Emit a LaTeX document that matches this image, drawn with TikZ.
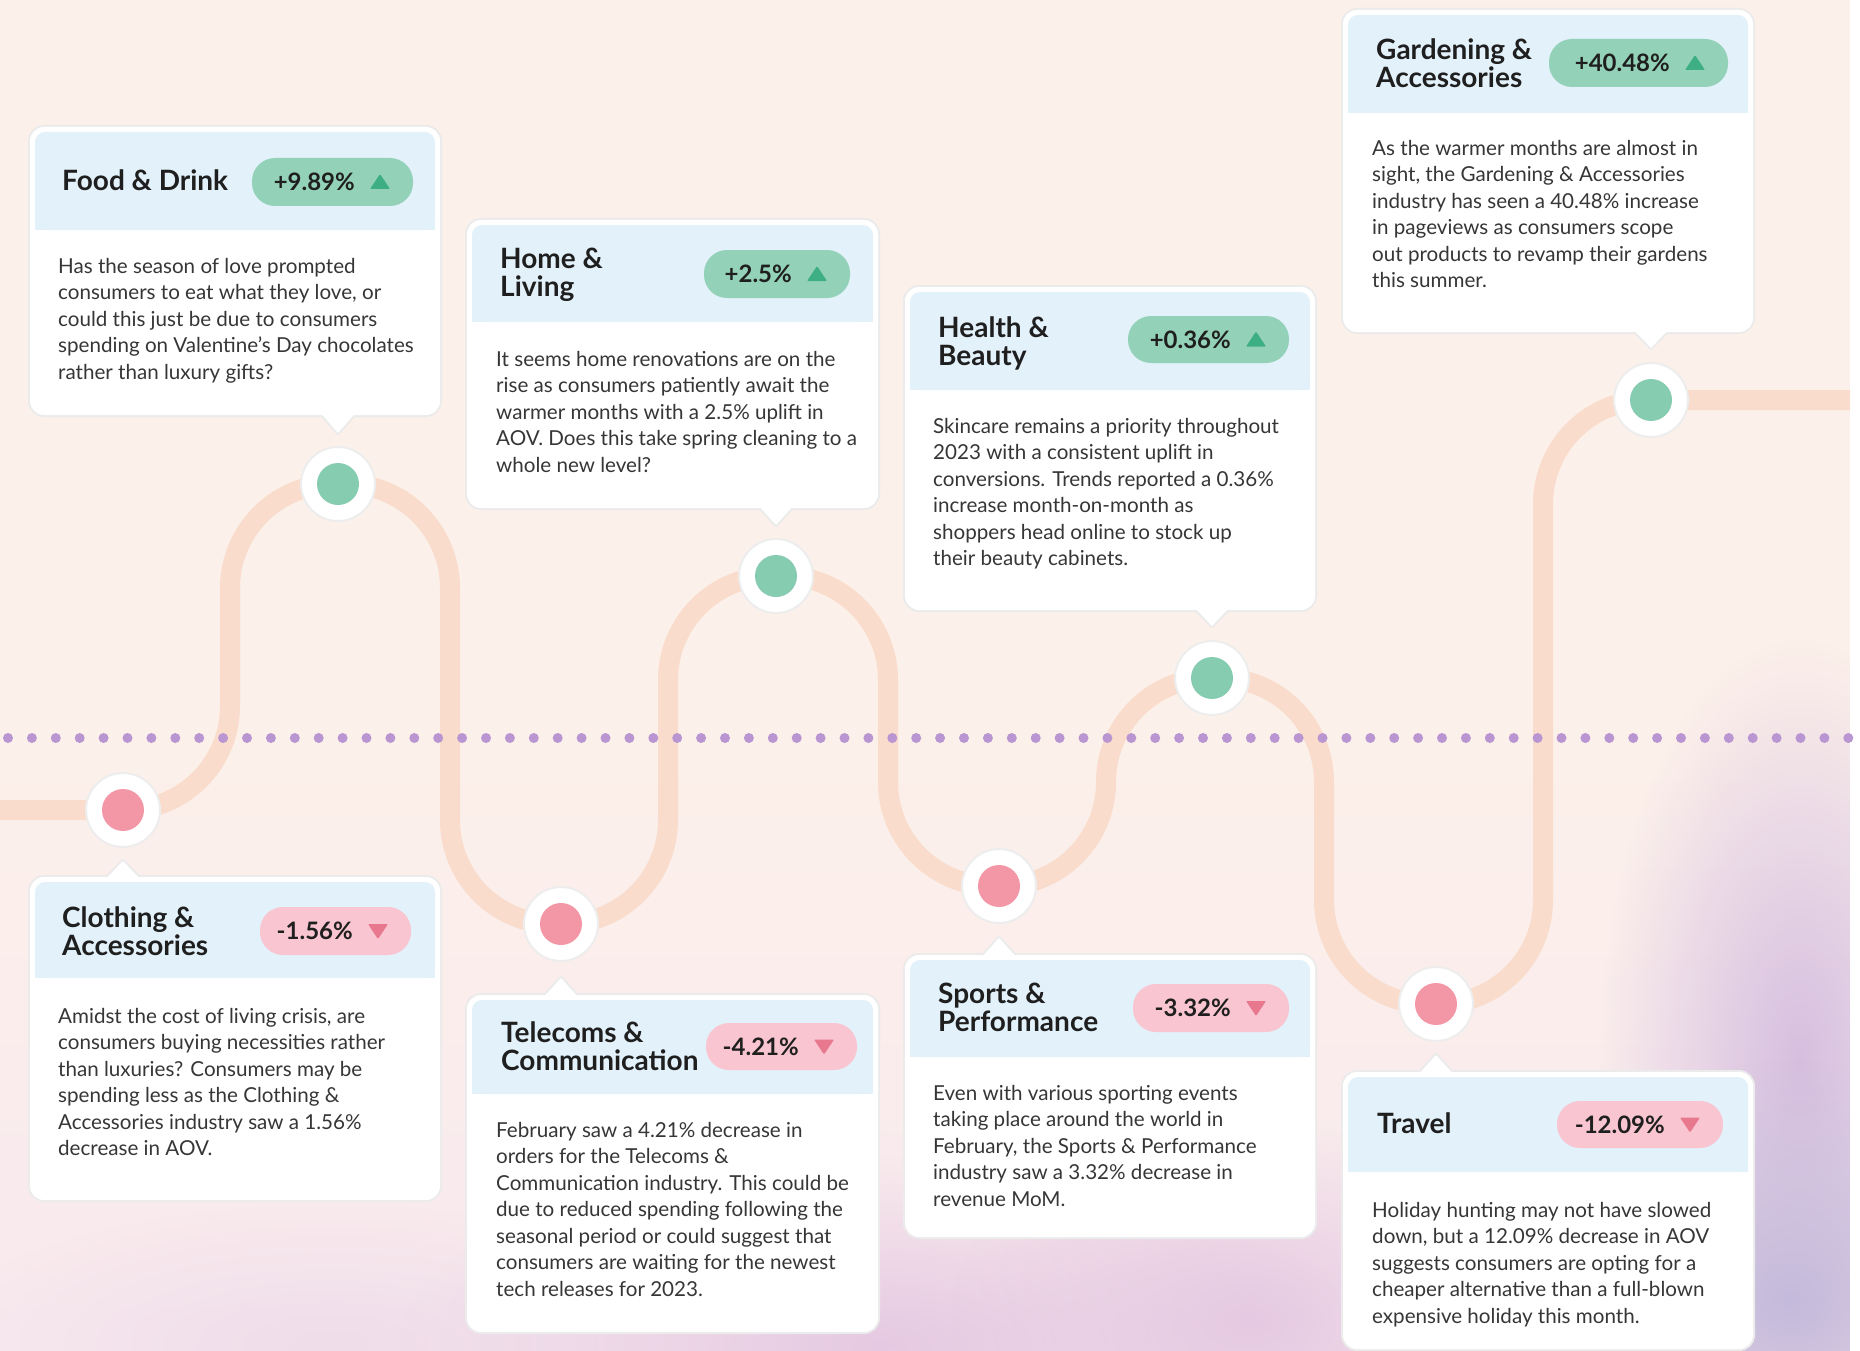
\documentclass[tikz,border=0pt]{standalone}
\usepackage{fontspec}
\setmainfont{Lato}
\usetikzlibrary{fadings}
\definecolor{bg}{HTML}{FCF0EA}
\definecolor{bgbot}{HTML}{F8E9EE}
\definecolor{trackc}{HTML}{F9DCCB}
\definecolor{hdr}{HTML}{E3F1FA}
\definecolor{gpill}{HTML}{93D2B8}
\definecolor{gtri}{HTML}{3EAE84}
\definecolor{gdot}{HTML}{86CCB0}
\definecolor{rpill}{HTML}{F8C5D0}
\definecolor{rtri}{HTML}{E7788D}
\definecolor{rdot}{HTML}{F397A7}
\definecolor{dotline}{HTML}{B995D2}
\definecolor{ink}{HTML}{1F1F1F}
\definecolor{bodyink}{HTML}{363636}
\definecolor{lavA}{HTML}{D6BFE0}
\definecolor{lavB}{HTML}{C4BADB}
\definecolor{lavC}{HTML}{E5C9E2}
\definecolor{lavD}{HTML}{EFDDEA}
\tikzfading[name=fuzzyball, inner color=transparent!0, outer color=transparent!100]
\newcommand\bstrut{\rule{0pt}{20pt}}
\newcommand\tstrut{\rule{0pt}{28pt}}
\tikzset{
  trackline/.style={draw=trackc, line width=20pt, rounded corners=104pt},
  ringnode/.style={circle, fill=white, draw=black!7, line width=2pt, minimum size=74pt, inner sep=0pt},
  corenode/.style={circle, minimum size=42pt, inner sep=0pt},
  pillnode/.style={rectangle, rounded corners=23pt, inner sep=0pt},
  pilltxt/.style={font=\bfseries\fontsize{24}{28}\selectfont, text=ink, inner sep=0pt},
  titletxt/.style={font=\bfseries\fontsize{28}{28.5}\selectfont, text=ink, inner sep=0pt, align=left},
  bodytxt/.style={font=\fontsize{20.6}{26.5}\selectfont, text=bodyink, inner sep=0pt, align=left},
}
% card: x1,y1,x2,y2,header bottom,pointer x,pointer tip y,pointer base y
\newcommand\cardbox[8]{%
  \draw[draw=black!8, line width=4pt, rounded corners=14pt] (#1,#2) rectangle (#3,#4);
  \draw[draw=black!8, line width=4pt, line join=round] ({#6-20},#8) -- (#6,#7) -- ({#6+20},#8) -- cycle;
  \fill[white, rounded corners=14pt] (#1,#2) rectangle (#3,#4);
  \fill[white] ({#6-20},#8) -- (#6,#7) -- ({#6+20},#8) -- cycle;
  \fill[hdr, rounded corners=10pt] ({#1+5},{#2+5}) rectangle ({#3-5},#5);
  \fill[hdr] ({#1+5},{#5-15}) rectangle ({#3-5},#5);
}
% pill: name,x1,y1,x2,y2,text,fill,tri colour,dir(1 up,-1 down)
\newcommand\pill[9]{%
  \pgfmathsetmacro\pcx{(#2+#4)/2}%
  \pgfmathsetmacro\pcy{(#3+#5)/2}%
  \pgfmathsetmacro\pw{#4-#2}%
  \pgfmathsetmacro\ph{#5-#3}%
  \node[pillnode, fill=#7, minimum width=\pw pt, minimum height=\ph pt] (#1) at (\pcx,\pcy) {};
  \node[pilltxt, anchor=base east] (#1txt) at ({#4-58},{\pcy+8.5}) {#6};
  \fill[#8, rounded corners=1pt] ({#4-43},{\pcy+7*#9}) -- ({#4-23},{\pcy+7*#9}) -- ({#4-33},{\pcy-8*#9}) -- cycle;
}
\begin{document}
\begin{tikzpicture}[x=1pt,y=-1pt]
\useasboundingbox (0,0) rectangle (1860,1351);
% background
\fill[bg] (0,0) rectangle (1860,1351);
\shade[top color=bg, bottom color=bgbot] (0,738) rectangle (1860,1351);
\fill[lavD, path fading=fuzzyball] (330,1345) ellipse (400 and 140);
\fill[lavC, path fading=fuzzyball] (880,1345) ellipse (480 and 190);
\fill[lavC, path fading=fuzzyball] (1250,1320) ellipse (300 and 200);
\fill[lavA, path fading=fuzzyball] (1800,1060) ellipse (200 and 420);
\fill[lavB, path fading=fuzzyball] (1790,1300) ellipse (260 and 240);
\fill[white] (1850,0) rectangle (1860,1351);

% track coordinates
\coordinate (start) at (0,810);
\coordinate (d1) at (123,810);
\coordinate (d2) at (338,484);
\coordinate (d3) at (561,924);
\coordinate (d4) at (776,576);
\coordinate (d5) at (999,886);
\coordinate (d6) at (1212,678);
\coordinate (d7) at (1436,1004);
\coordinate (d8) at (1651,400);
\coordinate (end) at (1850,400);
\coordinate (m1) at (230,0);
\coordinate (m2) at (450,0);
\coordinate (m3) at (668,0);
\coordinate (m4) at (888,0);
\coordinate (m5) at (1106,0);
\coordinate (m6) at (1324,0);
\coordinate (m7) at (1543,0);

\draw[trackline] (start) -- (d1 -| m1) -- (d2 -| m1)
  -- (d2 -| m2) -- (d3 -| m2)
  -- (d3 -| m3) -- (d4 -| m3)
  -- (d4 -| m4) -- (d5 -| m4)
  -- (d5 -| m5) -- (d6 -| m5)
  -- (d6 -| m6) -- (d7 -| m6)
  -- (d7 -| m7) -- (d8 -| m7) -- (end);

% dotted divider
\foreach \k in {0,...,77} \fill[dotline] ({8+23.9*\k},738) circle (5);

% cards
\cardbox{30}{127}{440}{415}{230}{338}{433}{410}
\cardbox{467}{220}{878}{508}{322}{776}{525}{503}
\cardbox{905}{287}{1315}{610}{390}{1212}{626}{605}
\cardbox{1343}{10}{1753}{332}{113}{1651}{348}{327}
\cardbox{30}{877}{440}{1200}{978}{123}{861}{882}
\cardbox{467}{995}{878}{1332}{1094}{561}{978}{1000}
\cardbox{905}{955}{1315}{1237}{1057}{999}{938}{960}
\cardbox{1343}{1072}{1753}{1349}{1172}{1436}{1055}{1077}

% pills
\pill{p1}{252}{158}{413}{206}{+9.89\%}{gpill}{gtri}{1}
\pill{p2}{704}{250}{850}{298}{+2.5\%}{gpill}{gtri}{1}
\pill{p3}{1128}{316}{1289}{363}{+0.36\%}{gpill}{gtri}{1}
\pill{p4}{1549}{39}{1728}{87}{+40.48\%}{gpill}{gtri}{1}
\pill{p5}{260}{907}{411}{955}{-1.56\%}{rpill}{rtri}{-1}
\pill{p6}{706}{1023}{857}{1070}{-4.21\%}{rpill}{rtri}{-1}
\pill{p7}{1133}{984}{1289}{1032}{-3.32\%}{rpill}{rtri}{-1}
\pill{p8}{1557}{1101}{1723}{1148}{-12.09\%}{rpill}{rtri}{-1}

% titles
\node[titletxt, anchor=north west] (t1) at (62,{190-28}) {\tstrut Food \& Drink};
\node[titletxt, anchor=north west] (t2) at (500,{268-28}) {\tstrut Home \&\\Living};
\node[titletxt, anchor=north west] (t3) at (938,{337-28}) {\tstrut Health \&\\Beauty};
\node[titletxt, anchor=north west] (t4) at (1376,{59-28}) {\tstrut Gardening \&\\Accessories};
\node[titletxt, anchor=north west] (t5) at (62,{927-28}) {\tstrut Clothing \&\\Accessories};
\node[titletxt, anchor=north west] (t6) at (501,{1042-28}) {\tstrut Telecoms \&\\Communication};
\node[titletxt, anchor=north west] (t7) at (938,{1003-28}) {\tstrut Sports \&\\Performance};
\node[titletxt, anchor=north west] (t8) at (1377,{1133-28}) {\tstrut Travel};

% body texts
\node[bodytxt, anchor=north west] (b1) at (58,{273-20}) {\bstrut Has the season of love prompted\\consumers to eat what they love, or\\could this just be due to consumers\\spending on Valentine’s Day chocolates\\rather than luxury gifts?};
\node[bodytxt, anchor=north west] (b2) at (496,{366-20}) {\bstrut It seems home renovations are on the\\rise as consumers patiently await the\\warmer months with a 2.5\% uplift in\\AOV. Does this take spring cleaning to a\\whole new level?};
\node[bodytxt, anchor=north west] (b3) at (933,{433-20}) {\bstrut Skincare remains a priority throughout\\2023 with a consistent uplift in\\conversions. Trends reported a 0.36\%\\increase month-on-month as\\shoppers head online to stock up\\their beauty cabinets.};
\node[bodytxt, anchor=north west] (b4) at (1372,{155-20}) {\bstrut As the warmer months are almost in\\sight, the Gardening \& Accessories\\industry has seen a 40.48\% increase\\in pageviews as consumers scope\\out products to revamp their gardens\\this summer.};
\node[bodytxt, anchor=north west] (b5) at (58,{1023-20}) {\bstrut Amidst the cost of living crisis, are\\consumers buying necessities rather\\than luxuries? Consumers may be\\spending less as the Clothing \&\\Accessories industry saw a 1.56\%\\decrease in AOV.};
\node[bodytxt, anchor=north west] (b6) at (496,{1137-20}) {\bstrut February saw a 4.21\% decrease in\\orders for the Telecoms \&\\Communication industry. This could be\\due to reduced spending following the\\seasonal period or could suggest that\\consumers are waiting for the newest\\tech releases for 2023.};
\node[bodytxt, anchor=north west] (b7) at (933,{1100-20}) {\bstrut Even with various sporting events\\taking place around the world in\\February, the Sports \& Performance\\industry saw a 3.32\% decrease in\\revenue MoM.};
\node[bodytxt, anchor=north west] (b8) at (1372,{1217-20}) {\bstrut Holiday hunting may not have slowed\\down, but a 12.09\% decrease in AOV\\suggests consumers are opting for a\\cheaper alternative than a full-blown\\expensive holiday this month.};

% timeline markers
\node[ringnode] (r1) at (d1) {};
\node[corenode, fill=rdot] (c1) at (d1) {};
\node[ringnode] (r2) at (d2) {};
\node[corenode, fill=gdot] (c2) at (d2) {};
\node[ringnode] (r3) at (d3) {};
\node[corenode, fill=rdot] (c3) at (d3) {};
\node[ringnode] (r4) at (d4) {};
\node[corenode, fill=gdot] (c4) at (d4) {};
\node[ringnode] (r5) at (d5) {};
\node[corenode, fill=rdot] (c5) at (d5) {};
\node[ringnode] (r6) at (d6) {};
\node[corenode, fill=gdot] (c6) at (d6) {};
\node[ringnode] (r7) at (d7) {};
\node[corenode, fill=rdot] (c7) at (d7) {};
\node[ringnode] (r8) at (d8) {};
\node[corenode, fill=gdot] (c8) at (d8) {};
\end{tikzpicture}
\end{document}
